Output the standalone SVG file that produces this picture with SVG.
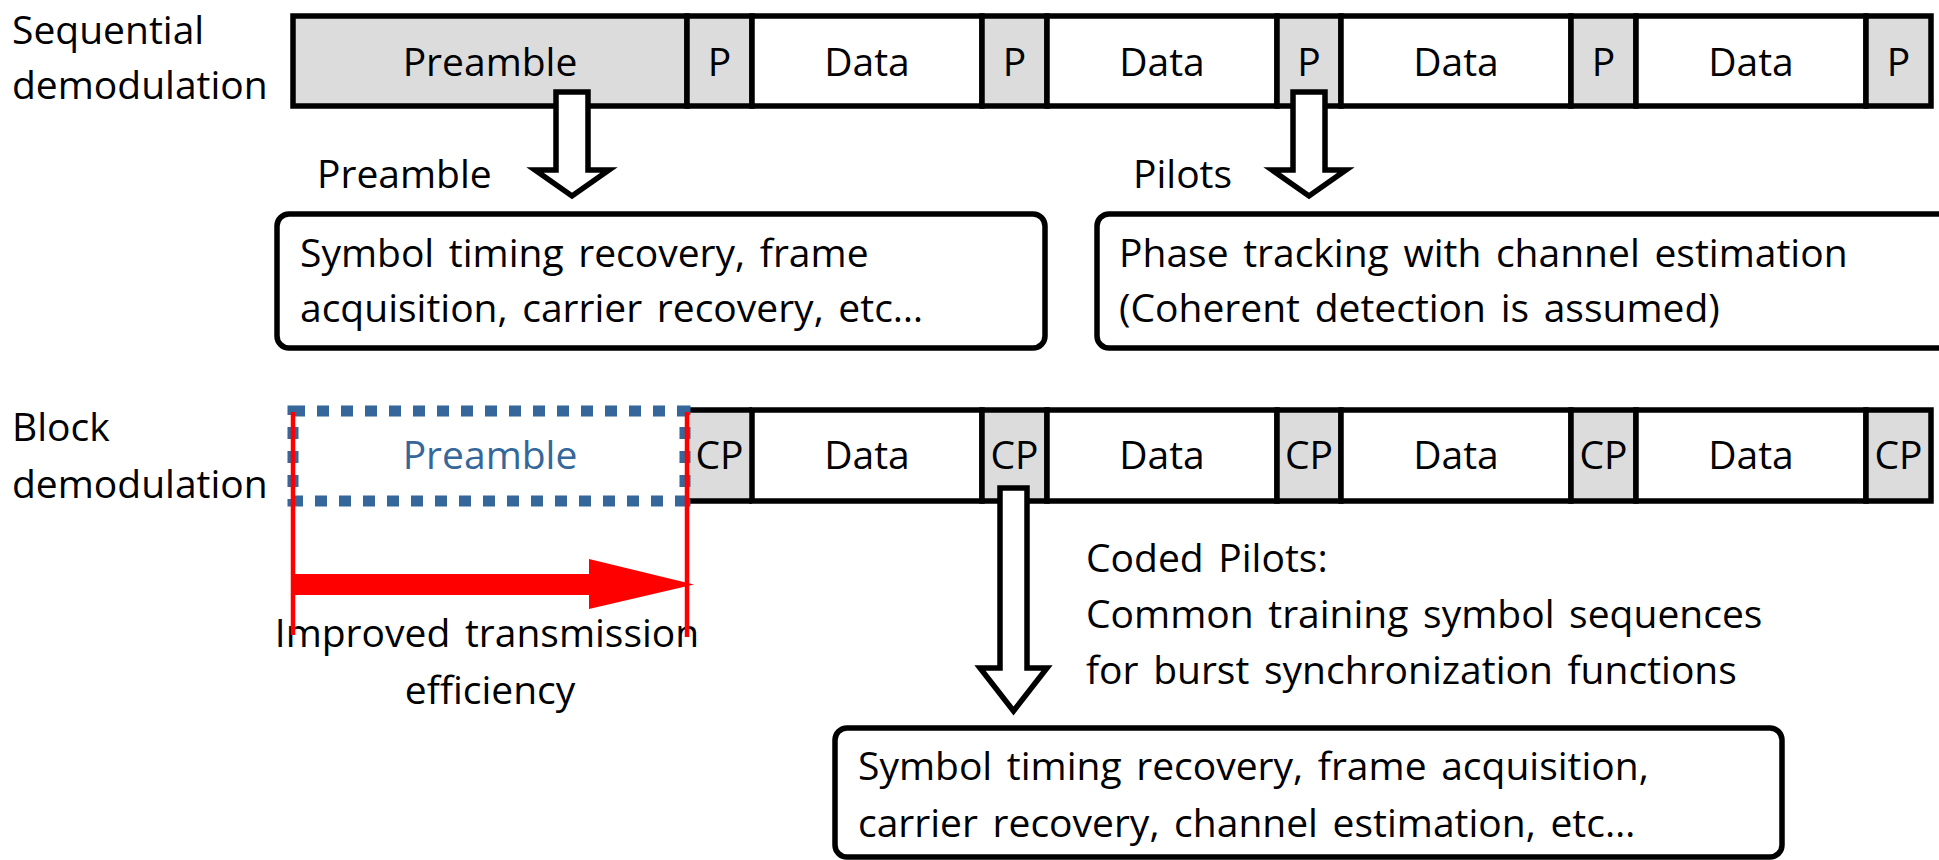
<svg xmlns="http://www.w3.org/2000/svg" width="1939" height="860" viewBox="0 0 1939 860">
  <style>
    text { font-family: "Open Sans", "Noto Sans", "DejaVu Sans", sans-serif; font-size: 39px; fill: #000; word-spacing: 4.5px; }
    .mid { text-anchor: middle; }
    .blue { fill: #35679a; }
    .cell { stroke: #000; stroke-width: 5.5; }
    .pilot { fill: #dcdcdc; }
    .data { fill: #ffffff; }
    .box { fill: #ffffff; stroke: #000; stroke-width: 5.5; }
    .hollow { fill: #ffffff; stroke: #000; stroke-width: 5.5; stroke-linejoin: miter; }
    .red { stroke: #ff0000; stroke-width: 4.5; fill: none; }
  </style>

  <!-- Row labels -->
  <g id="label-sequential">
    <text x="12" y="44">Sequential</text>
    <text x="12" y="99">demodulation</text>
  </g>
  <g id="label-block">
    <text x="12" y="441">Block</text>
    <text x="12" y="498">demodulation</text>
  </g>

  <!-- Sequential frame: preamble + pilots + data -->
  <g id="frame-sequential">
    <rect class="cell pilot" x="293" y="16" width="394" height="90"/>
    <rect class="cell pilot" x="687" y="16" width="65" height="90"/>
    <rect class="cell data" x="752" y="16" width="230" height="90"/>
    <rect class="cell pilot" x="982" y="16" width="65" height="90"/>
    <rect class="cell data" x="1047" y="16" width="230" height="90"/>
    <rect class="cell pilot" x="1277" y="16" width="64" height="90"/>
    <rect class="cell data" x="1341" y="16" width="230" height="90"/>
    <rect class="cell pilot" x="1571" y="16" width="65" height="90"/>
    <rect class="cell data" x="1636" y="16" width="230" height="90"/>
    <rect class="cell pilot" x="1866" y="16" width="65" height="90"/>
    <text class="mid" x="490" y="76">Preamble</text>
    <text class="mid" x="719.5" y="76">P</text>
    <text class="mid" x="867" y="76">Data</text>
    <text class="mid" x="1014.5" y="76">P</text>
    <text class="mid" x="1162" y="76">Data</text>
    <text class="mid" x="1309" y="76">P</text>
    <text class="mid" x="1456" y="76">Data</text>
    <text class="mid" x="1603.5" y="76">P</text>
    <text class="mid" x="1751" y="76">Data</text>
    <text class="mid" x="1898.5" y="76">P</text>
  </g>

  <!-- Block frame: cyclic-prefix pilots + data -->
  <g id="frame-block">
    <rect class="pilot" x="687" y="410" width="65" height="91"/>
    <rect class="cell data" x="752" y="410" width="230" height="91"/>
    <rect class="cell pilot" x="982" y="410" width="65" height="91"/>
    <rect class="cell data" x="1047" y="410" width="230" height="91"/>
    <rect class="cell pilot" x="1277" y="410" width="64" height="91"/>
    <rect class="cell data" x="1341" y="410" width="230" height="91"/>
    <rect class="cell pilot" x="1571" y="410" width="65" height="91"/>
    <rect class="cell data" x="1636" y="410" width="230" height="91"/>
    <rect class="cell pilot" x="1866" y="410" width="65" height="91"/>
    <path class="cell" fill="none" d="M687,410 H752 M687,501 H752"/>
    <text class="mid" x="719.5" y="469">CP</text>
    <text class="mid" x="867" y="469">Data</text>
    <text class="mid" x="1014.5" y="469">CP</text>
    <text class="mid" x="1162" y="469">Data</text>
    <text class="mid" x="1309" y="469">CP</text>
    <text class="mid" x="1456" y="469">Data</text>
    <text class="mid" x="1603.5" y="469">CP</text>
    <text class="mid" x="1751" y="469">Data</text>
    <text class="mid" x="1898.5" y="469">CP</text>
  </g>

  <!-- Removed preamble (dotted outline) -->
  <g id="preamble-removed">
    <rect x="293" y="411" width="392" height="90" fill="none" stroke="#35679a" stroke-width="11" stroke-dasharray="12 12"/>
    <text class="mid blue" x="490" y="469">Preamble</text>
  </g>

  <!-- Function boxes -->
  <g id="box-preamble">
    <rect class="box" x="277" y="214" width="768" height="134" rx="12"/>
    <text x="300" y="267">Symbol timing recovery, frame</text>
    <text x="300" y="322">acquisition, carrier recovery, etc…</text>
  </g>
  <g id="box-pilots">
    <rect class="box" x="1097" y="214" width="900" height="134" rx="12"/>
    <text x="1119" y="267">Phase tracking with channel estimation</text>
    <text x="1119" y="322">(Coherent detection is assumed)</text>
  </g>
  <g id="box-coded">
    <rect class="box" x="835" y="728" width="947" height="129" rx="12"/>
    <text x="858" y="780">Symbol timing recovery, frame acquisition,</text>
    <text x="858" y="837">carrier recovery, channel estimation, etc…</text>
  </g>

  <!-- Arrow captions -->
  <g id="caption-preamble"><text x="317" y="188">Preamble</text></g>
  <g id="caption-pilots"><text x="1133" y="188">Pilots</text></g>
  <g id="caption-coded">
    <text x="1086" y="572">Coded Pilots:</text>
    <text x="1086" y="628">Common training symbol sequences</text>
    <text x="1086" y="684">for burst synchronization functions</text>
  </g>
  <g id="caption-efficiency">
    <text class="mid" x="487" y="647">Improved transmission</text>
    <text class="mid" x="490" y="704">efficiency</text>
  </g>

  <!-- Connectors -->
  <g id="connectors">
    <path class="hollow" d="M556,92 H588 V170 H609 L572,196 L535,170 H556 Z"/>
    <path class="hollow" d="M1293,92 H1325 V170 H1346 L1309,196 L1272,170 H1293 Z"/>
    <path class="hollow" d="M1000,488 H1027 V668 H1047 L1013.5,711 L980,668 H1000 Z"/>
    <line class="red" x1="293" y1="412" x2="293" y2="635"/>
    <line class="red" x1="687" y1="412" x2="687" y2="637"/>
    <path fill="#ff0000" d="M292,574 H589 V559 L694,584.5 L589,609 V595 H292 Z"/>
  </g>
</svg>
